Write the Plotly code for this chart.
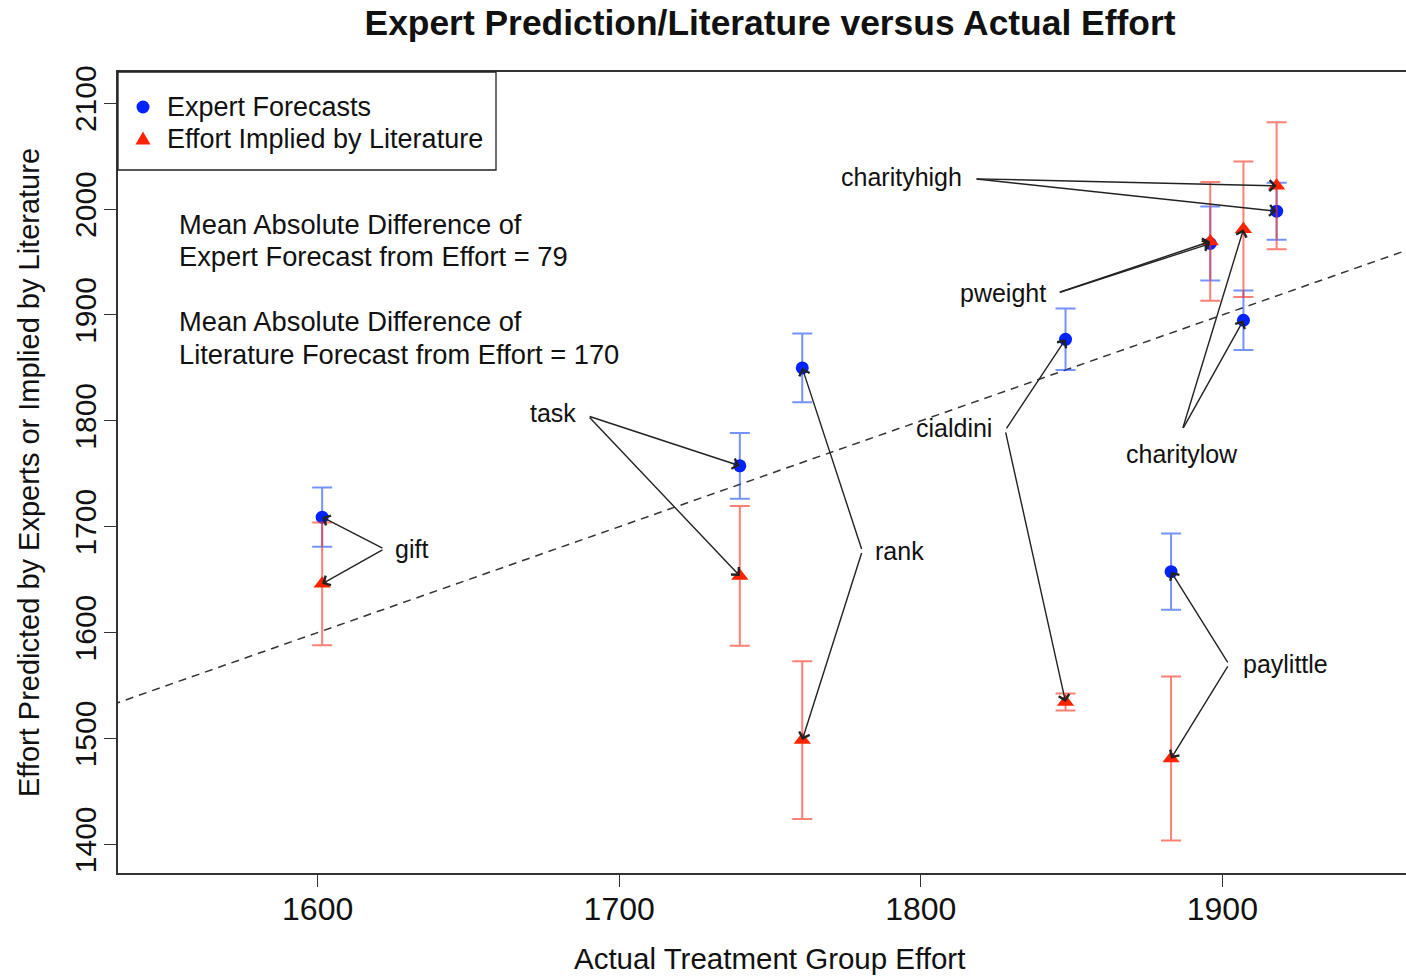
import plotly.graph_objects as go

# ---------------- data ----------------
treatments = ["gift", "task", "rank", "cialdini", "paylittle", "pweight", "charitylow", "charityhigh"]
actual_effort = [1601.5, 1740, 1760.7, 1848, 1883, 1896, 1907, 1918]
expert_forecast = [1709, 1757.5, 1850, 1877, 1657.5, 1967.5, 1895, 1998]
expert_err = [28, 31, 32.5, 29, 36, 35, 28, 27]
literature_effort = [1646, 1653.5, 1498.5, 1534.5, 1481, 1969.5, 1981, 2022]
literature_err = [58, 66, 74.5, 8, 77.5, 56, 64, 60]

# label placement (data coords) and arrow-tail positions
label_x = [1631, 1678, 1793, 1811, 1921, 1827.4, 1886.7, 1793.5]
label_y = [1679, 1807.5, 1677, 1793.5, 1570, 1921, 1768.7, 2030.5]
tail_x = [1622, 1689.7, 1780.6, 1828, 1902.2, 1845.6, 1886.7, 1818]
tail_y = [1679, 1804.6, 1677, 1791, 1570, 1921, 1791.4, 2028.6]

legend_names = ["Expert Forecasts", "Effort Implied by Literature"]
mad_expert = 79
mad_literature = 170

x_range = [1533.8, 1960.9]
y_range = [1372.9, 2129.5]
x_ticks = [1600, 1700, 1800, 1900]
y_ticks = [1400, 1500, 1600, 1700, 1800, 1900, 2000, 2100]

FONT = "Liberation Sans, Arial, Helvetica, sans-serif"
BLUE = "#0022FF"
RED = "#FF2200"
TXT = "#111111"

W, H = 1406, 976
ML, MT, MB = 118, 72, 103
PW, PH = W - ML, H - MT - MB

fig = go.Figure()

# 45-degree reference line
fig.add_trace(go.Scatter(
    x=[x_range[0] - 50, x_range[1] + 50], y=[x_range[0] - 50, x_range[1] + 50],
    mode="lines", line=dict(color="#333333", width=1.5, dash="8px,6px"),
    showlegend=False, hoverinfo="skip"))

fig.add_trace(go.Scatter(
    x=actual_effort, y=expert_forecast, mode="markers", name=legend_names[0],
    marker=dict(symbol="circle", size=13, color=BLUE), showlegend=False,
    error_y=dict(type="data", array=expert_err, visible=True,
                 color="rgba(30,80,255,0.62)", thickness=2, width=10)))

fig.add_trace(go.Scatter(
    x=actual_effort, y=literature_effort, mode="markers", name=legend_names[1],
    marker=dict(symbol="triangle-up", size=15, color=RED), showlegend=False,
    error_y=dict(type="data", array=literature_err, visible=True,
                 color="rgba(255,50,30,0.62)", thickness=2, width=10)))

annotations = []
for i, name in enumerate(treatments):
    annotations.append(dict(
        x=label_x[i], y=label_y[i], xref="x", yref="y", text=name, showarrow=False,
        xanchor="center", yanchor="middle", font=dict(family=FONT, size=25, color=TXT)))
    for target in (expert_forecast[i], literature_effort[i]):
        annotations.append(dict(
            x=actual_effort[i], y=target, xref="x", yref="y",
            ax=tail_x[i], ay=tail_y[i], axref="x", ayref="y",
            text=" ", font=dict(size=1), showarrow=True,
            arrowhead=4, arrowsize=1.5, arrowwidth=1.4, arrowcolor="#222222",
            standoff=0, startstandoff=0))

mad_lines = [
    ("Mean Absolute Difference of", 1985.5),
    ("Expert Forecast from Effort = %d" % mad_expert, 1955),
    ("Mean Absolute Difference of", 1894),
    ("Literature Forecast from Effort = %d" % mad_literature, 1862.5),
]
for txt, yv in mad_lines:
    annotations.append(dict(
        x=1553.4, y=yv, xref="x", yref="y", text=txt, showarrow=False,
        xanchor="left", yanchor="middle", font=dict(family=FONT, size=27.3, color=TXT)))

# ---- hand-built legend box (top-left of plot) ----
leg_w, leg_h = 378, 98
leg_mark_x = 25
leg_text_x = 47
leg_rows = [35, 67]
shapes = [dict(type="rect", xref="paper", yref="paper", x0=0, x1=leg_w / PW,
               y0=1 - leg_h / PH, y1=1, line=dict(color="#222222", width=1.3),
               fillcolor="white", layer="above")]
shapes.append(dict(type="circle", xref="paper", yref="paper", xsizemode="pixel", ysizemode="pixel",
                   xanchor=leg_mark_x / PW, yanchor=1 - leg_rows[0] / PH,
                   x0=-6.5, x1=6.5, y0=-6.5, y1=6.5, fillcolor=BLUE, line=dict(width=0), layer="above"))
shapes.append(dict(type="path", xref="paper", yref="paper", xsizemode="pixel", ysizemode="pixel",
                   xanchor=leg_mark_x / PW, yanchor=1 - leg_rows[1] / PH,
                   path="M -7.5,-5.5 L 7.5,-5.5 L 0,7.5 Z", fillcolor=RED, line=dict(width=0),
                   layer="above"))
for name, row in zip(legend_names, leg_rows):
    annotations.append(dict(
        x=leg_text_x / PW, y=1 - row / PH, xref="paper", yref="paper", text=name,
        showarrow=False, xanchor="left", yanchor="middle",
        font=dict(family=FONT, size=27, color=TXT)))

# x-axis title (centred on the full, uncropped plot region as in the reference)
annotations.append(dict(
    x=(769 - ML) / PW, y=-(958 - (H - MB)) / PH, xref="paper", yref="paper",
    text="Actual Treatment Group Effort", showarrow=False, xanchor="center", yanchor="middle",
    font=dict(family=FONT, size=29.5, color=TXT)))

fig.update_layout(
    width=W, height=H,
    margin=dict(l=ML, r=0, t=MT, b=MB),
    paper_bgcolor="white", plot_bgcolor="white",
    font=dict(family=FONT, color=TXT),
    title=dict(text="<b>Expert Prediction/Literature versus Actual Effort</b>",
               font=dict(family=FONT, size=35.4, color=TXT),
               x=770 / W, xanchor="center", xref="container",
               y=1 - 23 / H, yanchor="middle", yref="container"),
    showlegend=False,
    annotations=annotations,
    shapes=shapes,
)

fig.update_xaxes(range=x_range, tickvals=x_ticks, ticks="outside", ticklen=12, tickwidth=1.3,
                 tickcolor="#333333", showline=True, linecolor="#333333", linewidth=1.5,
                 mirror=True, showgrid=False, zeroline=False,
                 tickfont=dict(family=FONT, size=32, color=TXT), ticklabelstandoff=-5)
fig.update_yaxes(range=y_range, tickvals=y_ticks, ticks="outside", ticklen=12, tickwidth=1.3,
                 tickcolor="#333333", showline=True, linecolor="#333333", linewidth=1.5,
                 mirror=False, showgrid=False, zeroline=False, tickangle=-90,
                 tickfont=dict(family=FONT, size=30, color=TXT), ticklabelstandoff=-4,
                 title=dict(text="Effort Predicted by Experts or Implied by Literature", standoff=21,
                            font=dict(family=FONT, size=29, color=TXT)))

fig.write_html("out.html", config={"displayModeBar": False},
               post_script="document.body.style.margin='0';document.body.style.overflow='hidden';")
